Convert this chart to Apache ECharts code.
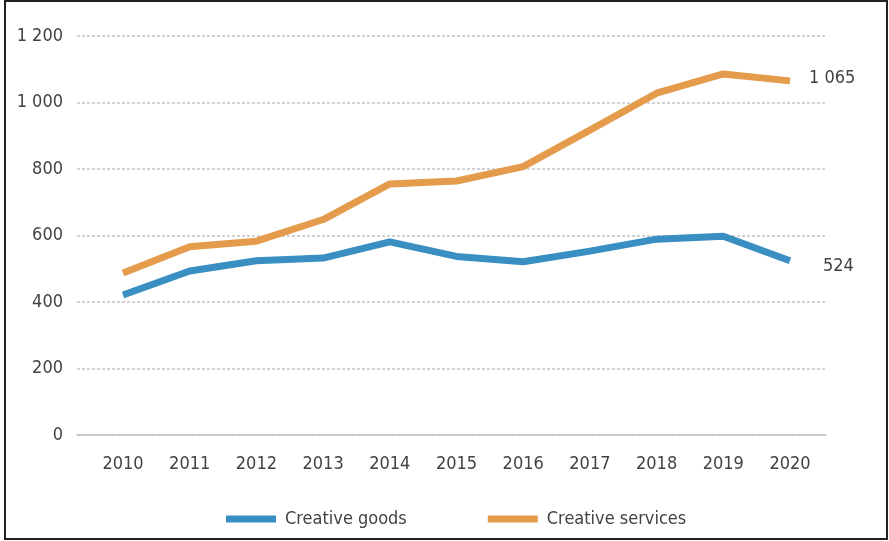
<!DOCTYPE html>
<html>
<head>
<meta charset="utf-8">
<script src="https://cdn.jsdelivr.net/npm/echarts@6/dist/echarts.min.js"></script>
<style>
  html, body { margin: 0; padding: 0; background: #fff; }
  #chart { width: 889px; height: 541px; }
</style>
</head>
<body>
<div id="chart"></div>
<script>
// Years on the horizontal axis
const years = [2010, 2011, 2012, 2013, 2014, 2015, 2016, 2017, 2018, 2019, 2020];
// Exports, billions of US dollars
const creativeGoods = [421, 493, 524, 532, 581, 537, 521, 553, 589, 598, 524];
const creativeServices = [487, 566, 583, 648, 755, 764, 807, 917, 1028, 1086, 1065];
const seriesNames = ['Creative goods', 'Creative services'];
const yTicks = [0, 200, 400, 600, 800, 1000, 1200];

const FONT = '"DejaVu Sans Condensed", "Liberation Sans Narrow", "Liberation Sans", sans-serif';
const TEXT = '#424242';
const fmt = v => String(v).replace(/\B(?=(\d{3})+(?!\d))/g, ' ');
const pairs = vals => vals.map((v, i) => [years[i], v]);

const chart = echarts.init(document.getElementById('chart'));
chart.setOption({
  animation: false,
  backgroundColor: '#fff',
  grid: { left: 77, right: 63, top: 36, bottom: 106, containLabel: false },
  xAxis: {
    type: 'value', min: 2009.31, max: 2020.54,
    axisLine: { show: true, lineStyle: { color: '#c2c2c2', width: 1.5 } },
    axisTick: { show: false },
    splitLine: { show: false },
    axisLabel: {
      customValues: years, formatter: v => String(v),
      margin: 20, fontFamily: FONT, fontSize: 18, color: TEXT
    }
  },
  yAxis: {
    type: 'value', min: 0, max: 1200,
    axisLabel: {
      customValues: yTicks, formatter: v => fmt(v),
      margin: 14, fontFamily: FONT, fontSize: 18, color: TEXT
    },
    axisLine: { show: false }, axisTick: { show: false },
    splitLine: {
      show: true,
      lineStyle: { color: '#c4c4c4', type: [3, 2], width: 1.5 }
    }
  },
  legend: {
    bottom: 8, left: 221,
    itemWidth: 50, itemHeight: 7, itemGap: 81,
    icon: 'rect',
    textStyle: { fontFamily: FONT, fontSize: 18, color: TEXT, padding: [0, 0, 0, 4] },
    data: seriesNames
  },
  series: [
    {
      name: seriesNames[0], type: 'line', symbol: 'none',
      color: '#3a8fc2',
      lineStyle: { width: 7, color: '#3a8fc2', join: 'round' },
      endLabel: {
        show: true, distance: 33, formatter: p => fmt(p.value[1]),
        fontFamily: FONT, fontSize: 18, color: TEXT, offset: [0, 6]
      },
      data: pairs(creativeGoods)
    },
    {
      name: seriesNames[1], type: 'line', symbol: 'none',
      color: '#e49c4c',
      lineStyle: { width: 7, color: '#e49c4c', join: 'round' },
      endLabel: {
        show: true, distance: 19, formatter: p => fmt(p.value[1]),
        fontFamily: FONT, fontSize: 18, color: TEXT, offset: [0, -3]
      },
      data: pairs(creativeServices)
    }
  ],
  graphic: [{
    type: 'rect', silent: true,
    shape: { x: 5, y: 1, width: 882, height: 538 },
    style: { fill: 'none', stroke: '#222', lineWidth: 2 }
  }]
});
</script>
</body>
</html>
